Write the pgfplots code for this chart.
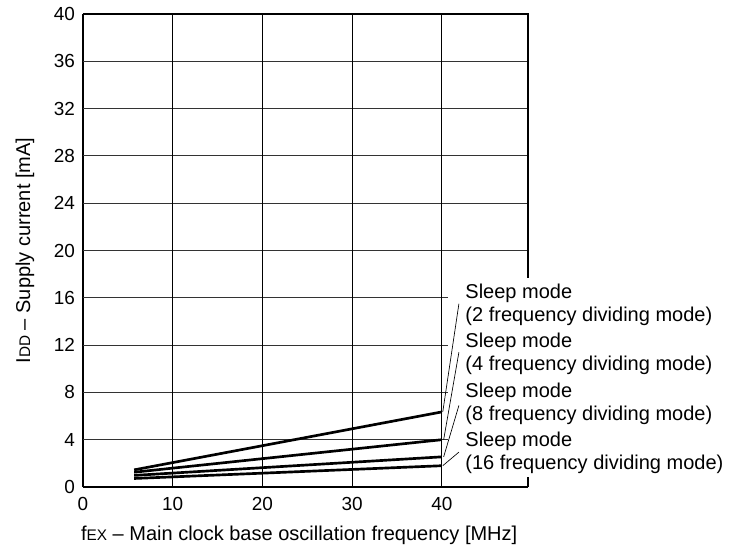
\documentclass[border=0pt]{standalone}
\usepackage{pgfplots}
\pgfplotsset{compat=1.18}
\usepackage{fontspec}
\setmainfont{Liberation Sans}
\newcommand{\lbl}{\fontsize{15}{17.6}\selectfont}
\newcommand{\tck}{\fontsize{14.2}{16}\selectfont}
\newcommand{\sm}[1]{{\fontsize{11.5}{12}\selectfont #1}}
\begin{document}
\begin{tikzpicture}
\begin{axis}[
  name=ax,
  width=333.75pt, height=354.75pt, scale only axis,
  xmin=0, xmax=49.6, ymin=0, ymax=40,
  axis x line=bottom, axis y line=left,
  axis line style={-, line width=1.5pt},
  xtick={0,10,20,30,40}, ytick={0,4,...,40},
  major tick length=0pt,
  tick label style={font=\tck},
  /pgf/number format/assume math mode=true,
  xticklabel style={yshift=-4.5pt},
  yticklabel style={xshift=-2.5pt},
  clip=false,
]
% grid
\pgfplotsinvokeforeach{20,24,28,32,36}{
  \draw[line width=0.7pt, black!80] (axis cs:0,#1) -- (axis cs:49.6,#1);
}
\pgfplotsinvokeforeach{4,8,12,16}{
  \draw[line width=0.7pt, black!80] (axis cs:0,#1) -- (axis cs:40.7,#1);
}
\pgfplotsinvokeforeach{10,20,30,40}{
  \draw[line width=0.7pt, black] (axis cs:#1,0) -- (axis cs:#1,40);
}
% borders
\draw[line width=1.5pt] (axis cs:0,40) -- (axis cs:49.6,40) -- (axis cs:49.6,17.7);
\draw[line width=1.5pt] (axis cs:49.6,0) -- (axis cs:49.6,0.85);
% curves
\addplot[black, line width=2pt] coordinates {(5.7,1.45) (40,6.35)};
\addplot[black, line width=2pt] coordinates {(5.7,1.25) (40,4.0)};
\addplot[black, line width=2pt] coordinates {(5.7,0.98) (40,2.55)};
\addplot[black, line width=2pt] coordinates {(5.7,0.72) (40,1.8)};
% leaders
\draw[line width=0.5pt] (axis cs:41.9,15.5) -- (axis cs:40.1,6.35);
\draw[line width=0.5pt] (axis cs:41.9,11.4) -- (axis cs:40.2,4.0);
\draw[line width=0.5pt] (axis cs:41.9,6.9) -- (axis cs:40.2,2.55);
\draw[line width=0.5pt] (axis cs:41.9,2.95) -- (axis cs:40.1,1.8);
% labels
\node[anchor=west, align=left, inner sep=0pt, font=\lbl] at (axis cs:42.6,15.4) {Sleep mode\\(2 frequency dividing mode)};
\node[anchor=west, align=left, inner sep=0pt, font=\lbl] at (axis cs:42.6,11.25) {Sleep mode\\(4 frequency dividing mode)};
\node[anchor=west, align=left, inner sep=0pt, font=\lbl] at (axis cs:42.6,7.05) {Sleep mode\\(8 frequency dividing mode)};
\node[anchor=west, align=left, inner sep=0pt, font=\lbl] at (axis cs:42.6,2.9) {Sleep mode\\(16 frequency dividing mode)};
% axis titles
\node[rotate=90, anchor=center, font=\lbl] at ([xshift=-43.5pt]rel axis cs:0,0.5) {I\sm{DD} – Supply current [mA]};
\node[anchor=center, font=\lbl] at ([yshift=-36pt]axis cs:24.1,0) {f\sm{EX} – Main clock base oscillation frequency [MHz]};
\end{axis}
\pgfresetboundingbox
\path ([shift={(-62.25pt,-45pt)}]ax.south west) rectangle ([shift={(161.25pt,10.5pt)}]ax.north east);
\end{tikzpicture}
\end{document}
